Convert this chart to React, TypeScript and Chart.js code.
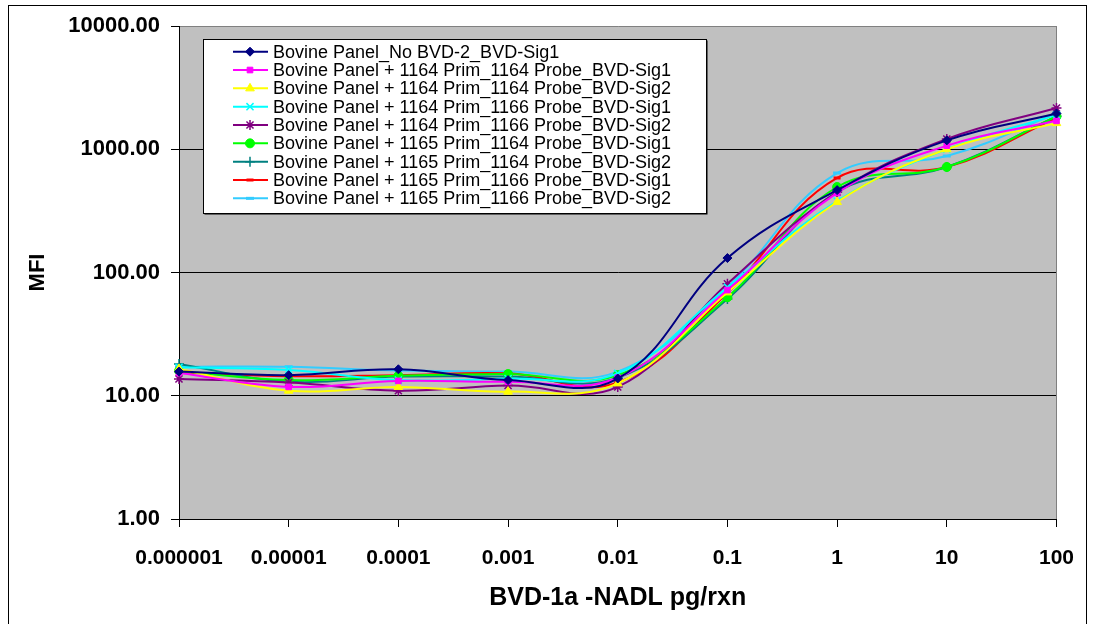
import React, { useEffect, useRef } from "react";
import { Chart, registerables } from "chart.js";
import { drawPoint } from "chart.js/helpers";

Chart.register(...registerables);

const categories = ["0.000001", "0.00001", "0.0001", "0.001", "0.01", "0.1", "1", "10", "100"];
const yTickValues = [1, 10, 100, 1000, 10000];

const seriesNames = [
  "Bovine Panel_No BVD-2_BVD-Sig1",
  "Bovine Panel + 1164 Prim_1164 Probe_BVD-Sig1",
  "Bovine Panel + 1164 Prim_1164 Probe_BVD-Sig2",
  "Bovine Panel + 1164 Prim_1166 Probe_BVD-Sig1",
  "Bovine Panel + 1164 Prim_1166 Probe_BVD-Sig2",
  "Bovine Panel + 1165 Prim_1164 Probe_BVD-Sig1",
  "Bovine Panel + 1165 Prim_1164 Probe_BVD-Sig2",
  "Bovine Panel + 1165 Prim_1166 Probe_BVD-Sig1",
  "Bovine Panel + 1165 Prim_1166 Probe_BVD-Sig2",
];

const noBvd2Sig1 = [15.7, 14.7, 16.4, 13.4, 13.8, 131, 466, 1180, 1950];
const p1164pr1164Sig1 = [15.3, 11.8, 13.2, 13.0, 14.0, 72, 442, 1070, 1700];
const p1164pr1164Sig2 = [16.5, 11.0, 11.8, 10.8, 12.6, 69, 373, 1000, 1630];
const p1164pr1166Sig1 = [17.0, 16.2, 13.4, 13.8, 15.2, 76, 380, 1000, 1900];
const p1164pr1166Sig2 = [13.7, 12.8, 11.0, 12.1, 11.8, 81, 450, 1210, 2160];
const p1165pr1164Sig1 = [15.9, 13.4, 14.5, 15.0, 14.7, 63, 494, 718, 1850];
const p1165pr1164Sig2 = [18.1, 13.0, 14.3, 14.3, 14.0, 61, 450, 718, 1850];
const p1165pr1166Sig1 = [15.5, 14.4, 14.7, 15.2, 12.8, 68, 585, 718, 1800];
const p1165pr1166Sig2 = [17.2, 17.2, 16.0, 15.7, 15.7, 76, 641, 881, 1950];

const seriesValues = [
  noBvd2Sig1,
  p1164pr1164Sig1,
  p1164pr1164Sig2,
  p1164pr1166Sig1,
  p1164pr1166Sig2,
  p1165pr1164Sig1,
  p1165pr1164Sig2,
  p1165pr1166Sig1,
  p1165pr1166Sig2,
];

const seriesColors = ["#000080", "#FF00FF", "#FFFF00", "#00FFFF", "#800080", "#00FF00", "#008080", "#FF0000", "#33CCFF"];
const seriesMarkers = ["rectRot", "rect", "triangle", "crossRot", "star", "circle", "cross", "line", "line"];
const markerRadius = [4.5, 4, 5, 5, 5, 4.5, 5, 3.5, 4];
const markerBorder = [1, 1, 1, 1.5, 1.5, 1, 1.5, 3, 3];

const FONT = "'Liberation Sans', Arial, sans-serif";

const framePlugin = {
  id: "framePlugin",
  beforeDraw(chart: any) {
    const { ctx, chartArea } = chart;
    ctx.save();
    ctx.fillStyle = "#ffffff";
    ctx.fillRect(0, 0, chart.width, chart.height);
    ctx.strokeStyle = "#000000";
    ctx.lineWidth = 1;
    ctx.strokeRect(8.5, 5.5, 1078, 700);
    ctx.fillStyle = "#C0C0C0";
    ctx.fillRect(chartArea.left, chartArea.top, chartArea.right - chartArea.left, chartArea.bottom - chartArea.top);
    ctx.restore();
  },
  beforeDatasetsDraw(chart: any) {
    const { ctx, chartArea } = chart;
    ctx.save();
    ctx.strokeStyle = "#808080";
    ctx.lineWidth = 1;
    ctx.beginPath();
    ctx.moveTo(Math.round(chartArea.right) + 0.5, chartArea.top);
    ctx.lineTo(Math.round(chartArea.right) + 0.5, chartArea.bottom);
    ctx.stroke();
    ctx.restore();
  },
  afterDraw(chart: any) {
    const { ctx, chartArea } = chart;
    ctx.save();
    ctx.fillStyle = "#000";
    ctx.font = `bold 22px ${FONT}`;
    ctx.textAlign = "center";
    ctx.textBaseline = "middle";
    ctx.save();
    ctx.translate(38, (chartArea.top + chartArea.bottom) / 2);
    ctx.rotate(-Math.PI / 2);
    ctx.fillText("MFI", 0, 0);
    ctx.restore();
    ctx.font = `bold 25px ${FONT}`;
    ctx.fillText("BVD-1a -NADL pg/rxn", (chartArea.left + chartArea.right) / 2, 598);

    const bx = 203.5, by = 39.5, bw = 503, bh = 174;
    ctx.fillStyle = "#000";
    ctx.fillRect(bx + 1, by + 1, bw, bh);
    ctx.fillStyle = "#fff";
    ctx.fillRect(bx, by, bw, bh);
    ctx.strokeStyle = "#000";
    ctx.lineWidth = 1;
    ctx.strokeRect(bx, by, bw, bh);
    ctx.font = `18px ${FONT}`;
    ctx.textAlign = "left";
    ctx.textBaseline = "middle";
    chart.data.datasets.forEach((ds: any, i: number) => {
      const y = 51.7 + i * 18.33;
      ctx.strokeStyle = ds.borderColor;
      ctx.lineWidth = 2;
      ctx.beginPath();
      ctx.moveTo(233, y);
      ctx.lineTo(268, y);
      ctx.stroke();
      ctx.fillStyle = ds.borderColor;
      ctx.strokeStyle = ds.borderColor;
      ctx.lineWidth = ds.pointBorderWidth;
      drawPoint(ctx, { pointStyle: ds.pointStyle, radius: ds.pointRadius, rotation: 0, borderWidth: ds.pointBorderWidth }, 250, y);
      ctx.fillStyle = "#000";
      ctx.fillText(ds.label, 273, y + 1);
    });
    ctx.restore();
  },
};

export default function App() {
  const canvasRef = useRef<HTMLCanvasElement | null>(null);

  useEffect(() => {
    const canvas = canvasRef.current;
    if (!canvas) return;
    const datasets = seriesNames.map((name, i) => ({
      label: name,
      data: seriesValues[i],
      borderColor: seriesColors[i],
      backgroundColor: seriesColors[i],
      pointBackgroundColor: seriesColors[i],
      pointBorderColor: seriesColors[i],
      pointStyle: seriesMarkers[i],
      pointRadius: markerRadius[i],
      pointBorderWidth: markerBorder[i],
      borderWidth: 2,
      tension: 0.4,
      fill: false,
    }));

    const chart = new Chart(canvas, {
      type: "line",
      data: { labels: categories, datasets },
      plugins: [framePlugin],
      options: {
        animation: false,
        responsive: false,
        devicePixelRatio: 1,
        layout: { padding: { left: 0, right: 36, top: 26, bottom: 0 } },
        plugins: { legend: { display: false }, tooltip: { enabled: false } },
        scales: {
          x: {
            type: "category",
            offset: false,
            afterFit: (s: any) => { s.height = 105; },
            grid: { drawOnChartArea: false, drawTicks: true, tickLength: 8, tickColor: "#000" },
            border: { color: "#000", width: 1 },
            ticks: {
              color: "#000",
              padding: 19,
              maxRotation: 0,
              autoSkip: false,
              font: { family: FONT, size: 21, weight: "bold" },
            },
          },
          y: {
            type: "logarithmic",
            min: 1,
            max: 10000,
            afterFit: (s: any) => { s.width = 179; },
            afterBuildTicks: (s: any) => { s.ticks = yTickValues.map((v) => ({ value: v, major: true })); },
            grid: {
              color: (c: any) => (c.tick && c.tick.value === 10000 ? "#808080" : "#000"),
              tickColor: "#000",
              tickLength: 8,
              lineWidth: 1,
            },
            border: { color: "#000", width: 1 },
            ticks: {
              color: "#000",
              padding: 11,
              font: { family: FONT, size: 22, weight: "bold" },
              callback: (v: any) => Number(v).toFixed(2),
            },
          },
        },
      },
    } as any);
    return () => chart.destroy();
  }, []);

  return (
    <div style={{ position: "fixed", left: 0, top: 0, width: 1093, height: 624, background: "#fff" }}>
      <canvas ref={canvasRef} width={1093} height={624} style={{ display: "block" }} />
    </div>
  );
}
